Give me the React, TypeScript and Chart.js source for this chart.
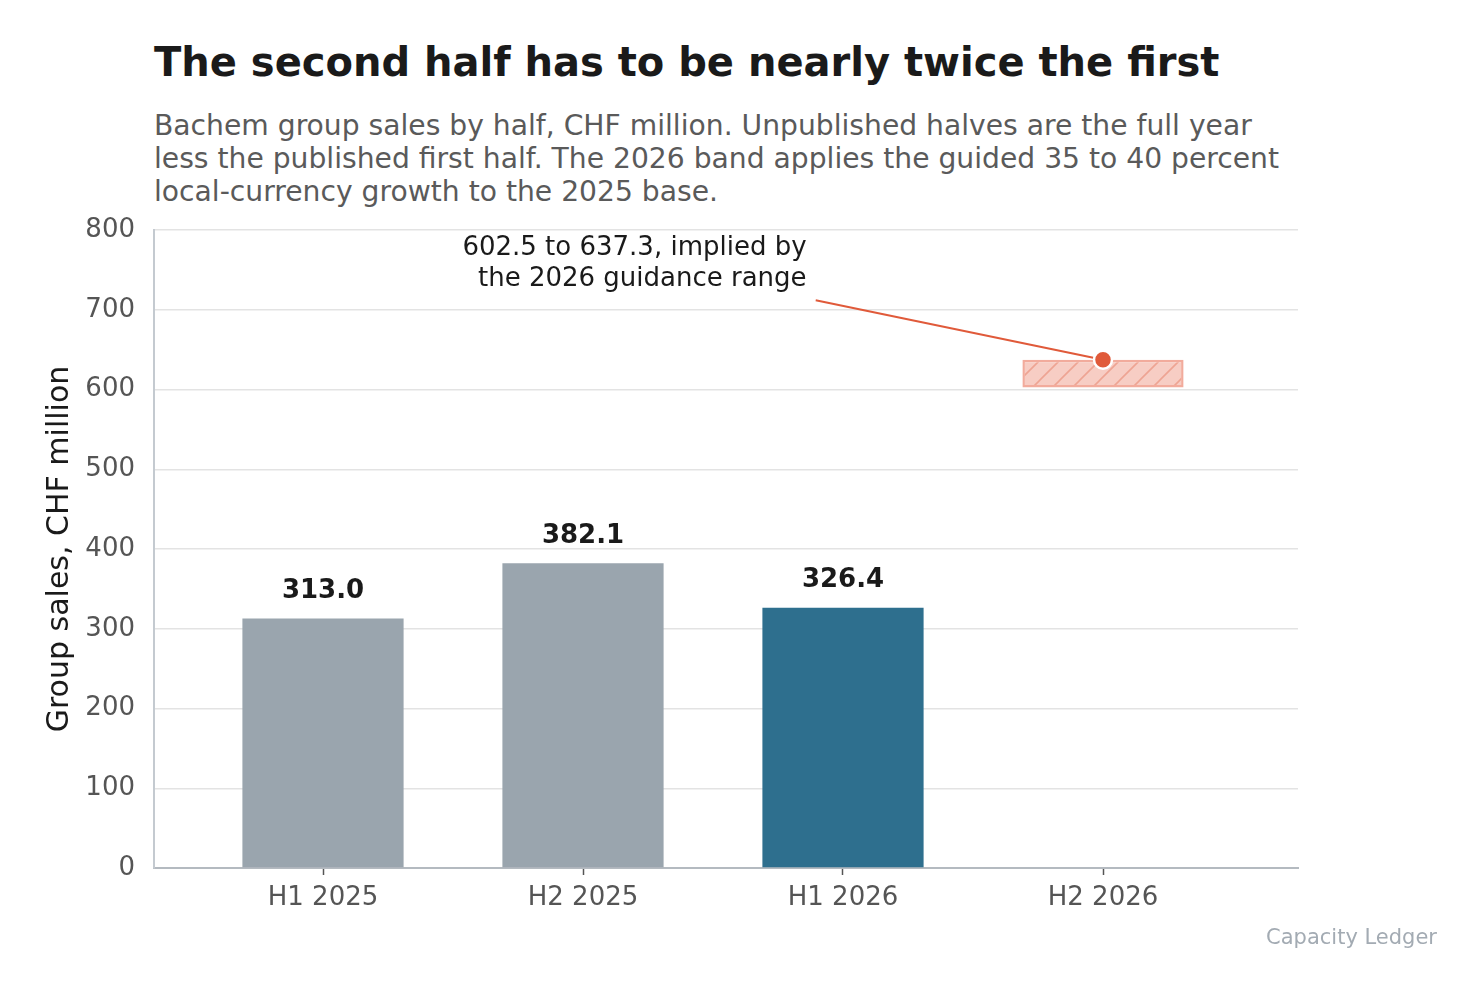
import { Chart, registerables } from "chart.js";
import { useEffect, useRef } from "react";

Chart.register(...registerables);

const categories = ["H1 2025", "H2 2025", "H1 2026", "H2 2026"];
const reportedSales = [313.0, 382.1, 326.4];
const guidanceLow = 602.5;
const guidanceHigh = 637.3;
const noteLines = ["602.5 to 637.3, implied by", "the 2026 guidance range"];

const FONT = "'DejaVu Sans', sans-serif";
const GREY_BAR = "#9aa5ae";
const BLUE_BAR = "#2e6f8e";
const ACCENT = "#e05a3a";

// annotation placement, in data units
const noteAt = { x: 1.86, y: 777 };
const leaderFrom = { x: 1.895, y: 712 };

const makeHatch = () => {
  const tile = document.createElement("canvas");
  tile.width = 20;
  tile.height = 20;
  const c = tile.getContext("2d")!;
  c.fillStyle = "#f7cdc4";
  c.fillRect(0, 0, 20, 20);
  c.strokeStyle = "#eea493";
  c.lineWidth = 1.6;
  c.beginPath();
  c.moveTo(0, 20);
  c.lineTo(20, 0);
  c.moveTo(-5, 5);
  c.lineTo(5, -5);
  c.moveTo(15, 25);
  c.lineTo(25, 15);
  c.stroke();
  return c.createPattern(tile, "repeat");
};

const extras = {
  id: "extras",
  beforeDatasetsDraw(chart: any) {
    const { ctx, scales } = chart;
    const x = scales.x, y = scales.y;
    ctx.save();
    ctx.strokeStyle = ACCENT;
    ctx.lineWidth = 2;
    ctx.beginPath();
    ctx.moveTo(x.getPixelForValue(leaderFrom.x), y.getPixelForValue(leaderFrom.y));
    ctx.lineTo(x.getPixelForValue(3), y.getPixelForValue(guidanceHigh));
    ctx.stroke();
    ctx.restore();
  },
  afterDatasetsDraw(chart: any) {
    const { ctx, scales } = chart;
    ctx.save();
    const meta = chart.getDatasetMeta(2);
    ctx.font = `bold 26px ${FONT}`;
    ctx.fillStyle = "#1a1a1a";
    ctx.textAlign = "center";
    ctx.textBaseline = "middle";
    meta.data.forEach((el: any, i: number) => {
      ctx.fillText(reportedSales[i].toFixed(1), el.x, el.y - 27);
    });

    ctx.font = `26px ${FONT}`;
    ctx.textAlign = "right";
    const nx = scales.x.getPixelForValue(noteAt.x);
    const ny = scales.y.getPixelForValue(noteAt.y);
    noteLines.forEach((line, i) => ctx.fillText(line, nx, ny + i * 31));

    ctx.font = `21px ${FONT}`;
    ctx.fillStyle = "#a3abb3";
    ctx.fillText("Capacity Ledger", 1437, 939);
    ctx.restore();
  },
};

const App: React.FC = () => {
  const chartRef = useRef<HTMLCanvasElement | null>(null);

  useEffect(() => {
    if (!chartRef.current) return;
    const ctx = chartRef.current.getContext("2d");
    if (!ctx) return;
    const hatch = makeHatch();

    const chart = new Chart(ctx, {
      type: "bar",
      data: {
        datasets: [
          {
            type: "scatter",
            label: "Guidance top",
            data: [{ x: 3, y: guidanceHigh }],
            pointRadius: 9,
            pointBackgroundColor: ACCENT,
            pointBorderColor: "#ffffff",
            pointBorderWidth: 2.5,
            order: 0,
          } as any,
          {
            type: "bar",
            label: "Guidance band",
            data: [{ x: 3, y: [guidanceLow, guidanceHigh] }],
            backgroundColor: hatch,
            borderColor: "#f2ab9c",
            borderWidth: 2.5,
            borderSkipped: false,
            grouped: false,
            barPercentage: 0.62,
            categoryPercentage: 1,
            order: 1,
          } as any,
          {
            type: "bar",
            label: "Group sales",
            data: reportedSales.map((v, i) => ({ x: i, y: v })),
            backgroundColor: [GREY_BAR, GREY_BAR, BLUE_BAR],
            borderWidth: 0,
            grouped: false,
            barPercentage: 0.62,
            categoryPercentage: 1,
            order: 2,
          } as any,
        ],
      },
      options: {
        responsive: false,
        animation: false,
        layout: { padding: { top: 230, right: 184, bottom: 66, left: 0 } },
        plugins: {
          legend: { display: false },
          tooltip: { enabled: false },
        },
        scales: {
          x: {
            type: "linear",
            min: -0.65,
            max: 3.75,
            offset: false,
            afterFit: (s: any) => { s.height = 60; },
            afterBuildTicks: (s: any) => { s.ticks = categories.map((_, i) => ({ value: i })); },
            ticks: {
              color: "#555555",
              font: { family: FONT, size: 26 },
              padding: 8,
              callback: (v: any) => categories[v as number],
            },
            grid: { offset: false, drawOnChartArea: false, drawTicks: true, tickLength: 7, tickColor: "#555555", tickWidth: 1.5 },
            border: { display: true, color: "#b4bac0", width: 2 },
          },
          y: {
            min: 0,
            max: 800,
            afterFit: (s: any) => { s.width = 154; },
            ticks: {
              stepSize: 100,
              color: "#555555",
              font: { family: FONT, size: 26 },
              padding: 19,
            },
            grid: { color: "#e3e3e3", lineWidth: 1.5, drawTicks: false },
            border: { display: true, color: "#c4cad0", width: 2 },
            title: {
              display: true,
              text: "Group sales, CHF million",
              color: "#1a1a1a",
              font: { family: FONT, size: 30 },
              padding: { top: 42, bottom: 0 },
            },
          },
        },
      },
      plugins: [extras],
    });
    return () => chart.destroy();
  }, []);

  return (
    <div style={{ position: "absolute", left: 0, top: 0, width: 1482, height: 994, background: "#ffffff", fontFamily: FONT }}>
      <div style={{ position: "absolute", left: 154, top: 42, fontSize: 40, lineHeight: "40px", fontWeight: "bold", color: "#1a1a1a", whiteSpace: "nowrap" }}>
        The second half has to be nearly twice the first
      </div>
      <div style={{ position: "absolute", left: 154, top: 109, fontSize: 28.2, lineHeight: "33px", color: "#5a5a5a", whiteSpace: "nowrap" }}>
        <div>Bachem group sales by half, CHF million. Unpublished halves are the full year</div>
        <div>less the published first half. The 2026 band applies the guided 35 to 40 percent</div>
        <div>local-currency growth to the 2025 base.</div>
      </div>
      <canvas ref={chartRef} width={1482} height={994} style={{ position: "absolute", left: 0, top: 0 }} />
    </div>
  );
};

export default App;
